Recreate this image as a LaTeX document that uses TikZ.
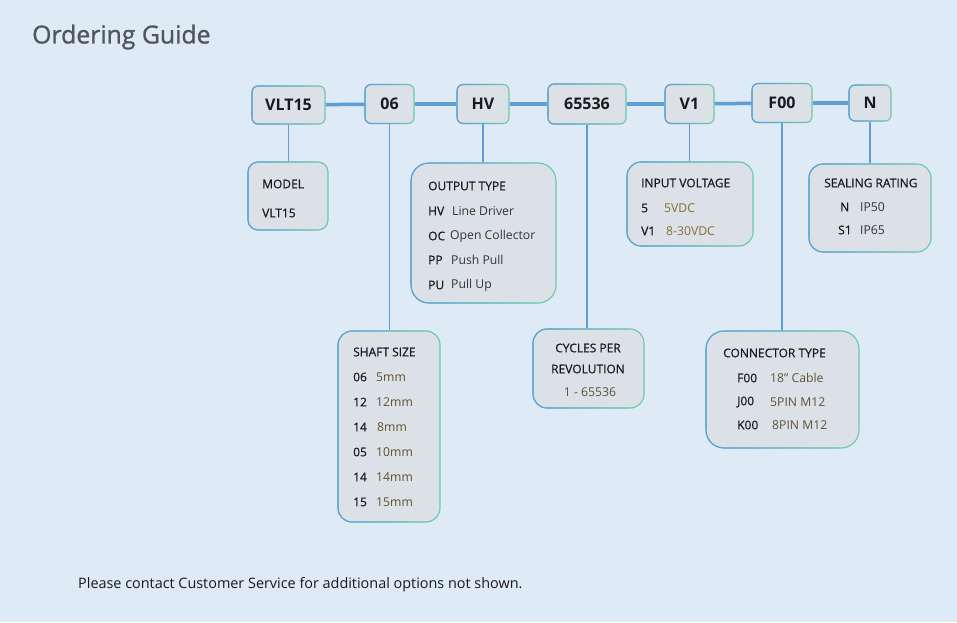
\documentclass[tikz,border=0pt]{standalone}
\usepackage{fontspec}
\setmainfont{Open Sans}
\newfontfamily\medfont{Open Sans}[FakeBold=0.5]
\newfontfamily\titlefont{Open Sans}[FakeBold=1]
\usetikzlibrary{fadings}
\definecolor{bgc}{HTML}{DEEAF6}
\definecolor{boxfill}{HTML}{DCE1E8}
\definecolor{bordg}{HTML}{6CCBA8}
\definecolor{bordb}{HTML}{5B9BE0}
\definecolor{linec}{HTML}{5E9DD6}
\definecolor{titlec}{HTML}{50565D}
\definecolor{codec}{HTML}{1A1A1A}
\definecolor{descc}{HTML}{333333}
\definecolor{olive}{HTML}{5E5228}
\definecolor{gold}{HTML}{8A6C34}
\definecolor{brownc}{HTML}{5E5238}
\begin{document}
\begin{tikzpicture}[x=1pt,y=-1pt,
  boxbase/.style={draw=bordg, line width=1.1pt, fill=boxfill, inner sep=0pt,
     postaction={draw=bordb, line width=1.1pt, path fading=east}},
  topbox/.style={boxbase, rounded corners=6pt, font=\fontsize{16}{18}\selectfont\bfseries, text=codec},
  infobox/.style={boxbase, rounded corners=#1},
  infobox/.default=14pt,
  hline/.style={draw=linec, line width=3.5pt},
  vline/.style={draw=linec, line width=1.4pt},
  hdr/.style={anchor=west, inner sep=0pt, font=\fontsize{12}{14}\selectfont\medfont, text=codec},
  code/.style={anchor=west, inner sep=0pt, font=\fontsize{12}{14}\selectfont\medfont, text=codec},
  desc/.style={anchor=west, inner sep=0pt, font=\fontsize{12.2}{14}\selectfont, text=#1},
  desc/.default=descc
]
\useasboundingbox (0,0) rectangle (957,622);
\fill[bgc] (0,0) rectangle (957,622);

\node[anchor=west, inner sep=0pt, font=\fontsize{24.8}{28}\selectfont\titlefont, text=titlec] (title) at (32,37) {Ordering Guide};

% top boxes
\node[topbox, minimum width=73, minimum height=38] (vlt) at (288.5,105) {VLT15};
\node[topbox, minimum width=49, minimum height=39] (s06) at (389.5,104) {06};
\node[topbox, minimum width=52, minimum height=39] (hv) at (483,104) {HV};
\node[topbox, minimum width=78, minimum height=40] (cpr) at (587,104) {65536};
\node[topbox, minimum width=49, minimum height=39] (v1) at (689.5,104) {V1};
\node[topbox, minimum width=60, minimum height=39] (f00) at (782,103) {F00};
\node[topbox, minimum width=42, minimum height=36] (nn) at (870,103) {N};

\draw[hline] (vlt) -- (s06);
\draw[hline] (s06) -- (hv);
\draw[hline] (hv) -- (cpr);
\draw[hline] (cpr) -- (v1);
\draw[hline] (v1) -- (f00);
\draw[hline] (f00) -- (nn);

% info boxes
\node[infobox=10pt, minimum width=80, minimum height=68] (model) at (288,196) {};
\node[infobox=18pt, minimum width=145, minimum height=140] (output) at (483.5,233) {};
\node[infobox=14pt, minimum width=102, minimum height=191] (shaft) at (389,426.5) {};
\node[infobox=14pt, minimum width=111, minimum height=79] (cycles) at (588.5,368.5) {};
\node[infobox=14pt, minimum width=126, minimum height=84] (input) at (690,204) {};
\node[infobox=18pt, minimum width=153, minimum height=117] (conn) at (782.5,389.5) {};
\node[infobox=14pt, minimum width=122, minimum height=88] (seal) at (870,208) {};

\draw[vline] (vlt.south) -- (vlt.south |- model.north);
\draw[vline] (s06.south) -- (s06.south |- shaft.north);
\draw[vline] (hv.south) -- (hv.south |- output.north);
\draw[vline] (cpr.south) -- (cpr.south |- cycles.north);
\draw[vline] (v1.south) -- (v1.south |- input.north);
\draw[vline] (f00.south) -- (f00.south |- conn.north);
\draw[vline] (nn.south) -- (nn.south |- seal.north);

% model
\node[hdr] (mh) at (262,184) {MODEL};
\node[code] (m1) at (262,213) {VLT15};

% output type
\node[hdr] (oh) at (428,186) {OUTPUT TYPE};
\node[code] (o1c) at (428,211) {HV};
\node[desc] (o1d) at (452,211) {Line Driver};
\node[code] (o2c) at (428,236) {OC};
\node[desc] (o2d) at (450,236) {Open Collector};
\node[code] (o3c) at (428,260) {PP};
\node[desc] (o3d) at (451,260) {Push Pull};
\node[code] (o4c) at (428,285) {PU};
\node[desc] (o4d) at (451,285) {Pull Up};

% shaft size
\node[hdr] (sh) at (353,352) {SHAFT SIZE};
\node[code] (s1c) at (353,377) {06};
\node[desc=olive] (s1d) at (376,377) {5mm};
\node[code] (s2c) at (353,402) {12};
\node[desc=olive] (s2d) at (376,402) {12mm};
\node[code] (s3c) at (353,427) {14};
\node[desc=olive] (s3d) at (377,427) {8mm};
\node[code] (s4c) at (353,452) {05};
\node[desc=olive] (s4d) at (376,452) {10mm};
\node[code] (s5c) at (353,477) {14};
\node[desc=olive] (s5d) at (376,477) {14mm};
\node[code] (s6c) at (353,502) {15};
\node[desc=olive] (s6d) at (376,502) {15mm};

% cycles
\node[hdr, anchor=center] (ch1) at (588,348) {CYCLES PER};
\node[hdr, anchor=center] (ch2) at (588,369) {REVOLUTION};
\node[desc=brownc, anchor=center] (c1) at (590,392) {1 - 65536};

% input voltage
\node[hdr] (ih) at (641,183) {INPUT VOLTAGE};
\node[code] (i1c) at (641,208) {5};
\node[desc=gold] (i1d) at (664,208) {5VDC};
\node[code] (i2c) at (641,231) {V1};
\node[desc=gold] (i2d) at (666,231) {8-30VDC};

% connector
\node[hdr] (kh) at (723,353) {CONNECTOR TYPE};
\node[code] (k1c) at (737,378) {F00};
\node[desc=brownc] (k1d) at (770,378) {18'' Cable};
\node[code] (k2c) at (737,402) {J00};
\node[desc=brownc] (k2d) at (770,402) {5PIN M12};
\node[code] (k3c) at (737,425) {K00};
\node[desc=brownc] (k3d) at (772,425) {8PIN M12};

% sealing
\node[hdr] (eh) at (824,183) {SEALING RATING};
\node[code] (e1c) at (840,207) {N};
\node[desc] (e1d) at (860,207) {IP50};
\node[code] (e2c) at (838,230) {S1};
\node[desc] (e2d) at (860,230) {IP65};

\node[anchor=west, inner sep=0pt, font=\fontsize{14.4}{16}\selectfont, text=codec] (foot) at (78,585) {Please contact Customer Service for additional options not shown.};
\end{tikzpicture}
\end{document}
